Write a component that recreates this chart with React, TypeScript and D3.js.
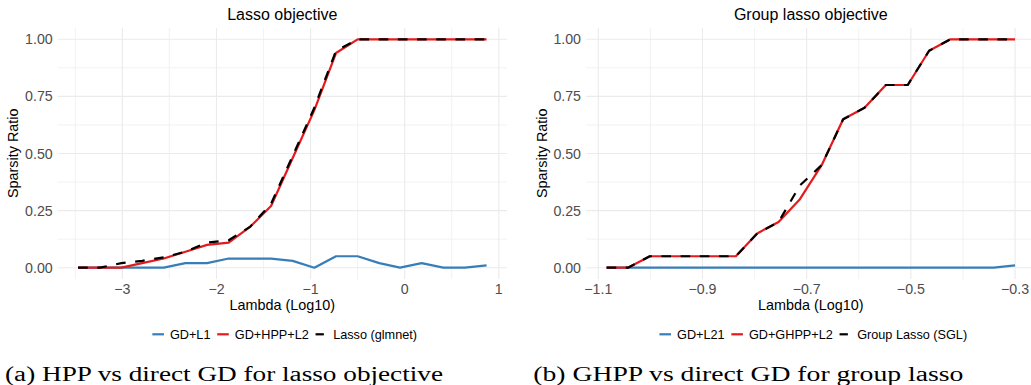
import { useEffect, useRef } from "react";
import * as d3 from "d3";

// log10(lambda) grid and sparsity ratios
const lassoLambda = [-3.47, -3.24, -3.01, -2.79, -2.56, -2.33, -2.1, -1.87, -1.64, -1.42, -1.19, -0.96, -0.73, -0.5, -0.27, -0.05, 0.18, 0.41, 0.64, 0.87];
const lassoGD = [0, 0, 0, 0, 0, 0.02, 0.02, 0.04, 0.04, 0.04, 0.03, 0, 0.05, 0.05, 0.02, 0, 0.02, 0, 0, 0.01];
const lassoHPP = [0, 0, 0, 0.02, 0.04, 0.07, 0.1, 0.11, 0.18, 0.27, 0.48, 0.69, 0.94, 1, 1, 1, 1, 1, 1, 1];
const lassoGlmnet = [0, 0, 0.02, 0.03, 0.045, 0.07, 0.11, 0.12, 0.18, 0.28, 0.49, 0.7, 0.95, 1, 1, 1, 1, 1, 1, 1];

const groupLambda = [-1.084, -1.043, -1.001, -0.96, -0.919, -0.878, -0.836, -0.795, -0.754, -0.713, -0.671, -0.63, -0.589, -0.548, -0.506, -0.465, -0.424, -0.383, -0.341, -0.3];
const groupGD = [0, 0, 0, 0, 0, 0, 0, 0, 0, 0, 0, 0, 0, 0, 0, 0, 0, 0, 0, 0.01];
const groupGHPP = [0, 0, 0.05, 0.05, 0.05, 0.05, 0.05, 0.15, 0.2, 0.3, 0.45, 0.65, 0.7, 0.8, 0.8, 0.95, 1, 1, 1, 1];
const groupSGL = [0, 0, 0.05, 0.05, 0.05, 0.05, 0.05, 0.15, 0.2, 0.36, 0.45, 0.65, 0.7, 0.8, 0.8, 0.95, 1, 1, 1, 1];

const lassoXTicks = [-3, -2, -1, 0, 1];
const lassoXMinor = [-3.5, -2.5, -1.5, -0.5, 0.5];
const groupXTicks = [-1.1, -0.9, -0.7, -0.5, -0.3];
const groupXMinor = [-1.0, -0.8, -0.6, -0.4];
const yTicks = [0, 0.25, 0.5, 0.75, 1];
const yMinor = [0.125, 0.375, 0.625, 0.875];

const lassoLegend = ["GD+L1", "GD+HPP+L2", "Lasso (glmnet)"];
const groupLegend = ["GD+L21", "GD+GHPP+L2", "Group Lasso (SGL)"];

const colors = ["#377EB8", "#E41A1C", "#000000"];
const SANS = "'Liberation Sans', Arial, Helvetica, sans-serif";

function App() {
  const svgRef = useRef<SVGSVGElement | null>(null);

  useEffect(() => {
    const svg = d3.select(svgRef.current);
    svg.selectAll("*").remove();

    const panels = [
      {
        title: "Lasso objective",
        x: lassoLambda,
        series: [lassoGD, lassoHPP, lassoGlmnet],
        legend: lassoLegend,
        ticks: lassoXTicks,
        minor: lassoXMinor,
        fmt: d3.format("d"),
        range: [57.7, 507],
        yLabelRight: 52.7,
        yTitleX: 18,
        legendCenter: 284.7,
      },
      {
        title: "Group lasso objective",
        x: groupLambda,
        series: [groupGD, groupGHPP, groupSGL],
        legend: groupLegend,
        ticks: groupXTicks,
        minor: groupXMinor,
        fmt: d3.format(".1f"),
        range: [586.2, 1035.5],
        yLabelRight: 581,
        yTitleX: 547,
        legendCenter: 813.3,
      },
    ];

    panels.forEach(p => {
      const [lo, hi] = d3.extent(p.x) as [number, number];
      const pad = (hi - lo) * 0.05;
      const x = d3.scaleLinear().domain([lo - pad, hi + pad]).range(p.range);
      const y = d3.scaleLinear().domain([-0.05, 1.05]).range([279.1, 27.9]);
      const [x0, x1] = p.range;
      const [y0, y1] = y.range();

      const g = svg.append("g");

      // grid
      g.selectAll(".vminor").data(p.minor).join("line")
        .attr("x1", d => x(d)).attr("x2", d => x(d))
        .attr("y1", y0).attr("y2", y1)
        .attr("stroke", "#efefef").attr("stroke-width", 0.8);
      g.selectAll(".hminor").data(yMinor).join("line")
        .attr("y1", d => y(d)).attr("y2", d => y(d))
        .attr("x1", x0).attr("x2", x1)
        .attr("stroke", "#efefef").attr("stroke-width", 0.8);
      g.append("g").selectAll("line").data(p.ticks).join("line")
        .attr("x1", d => x(d)).attr("x2", d => x(d))
        .attr("y1", y0).attr("y2", y1)
        .attr("stroke", "#ebebeb").attr("stroke-width", 1.1);
      g.append("g").selectAll("line").data(yTicks).join("line")
        .attr("y1", d => y(d)).attr("y2", d => y(d))
        .attr("x1", x0).attr("x2", x1)
        .attr("stroke", "#ebebeb").attr("stroke-width", 1.1);

      // tick labels
      g.append("g").selectAll("text").data(p.ticks).join("text")
        .attr("x", d => x(d)).attr("y", 294)
        .attr("text-anchor", "middle")
        .attr("font-family", SANS).attr("font-size", 14.2).attr("fill", "#4d4d4d")
        .text(d => p.fmt(d));
      g.append("g").selectAll("text").data(yTicks).join("text")
        .attr("x", p.yLabelRight).attr("y", d => y(d) + 5)
        .attr("text-anchor", "end")
        .attr("font-family", SANS).attr("font-size", 14.2).attr("fill", "#4d4d4d")
        .text(d => d3.format(".2f")(d));

      // titles
      g.append("text")
        .attr("x", (x0 + x1) / 2).attr("y", 20)
        .attr("text-anchor", "middle")
        .attr("font-family", SANS).attr("font-size", 16)
        .text(p.title);
      g.append("text")
        .attr("x", (x0 + x1) / 2).attr("y", 310)
        .attr("text-anchor", "middle")
        .attr("font-family", SANS).attr("font-size", 14.4)
        .text("Lambda (Log10)");
      g.append("text")
        .attr("transform", `translate(${p.yTitleX},153.3) rotate(-90)`)
        .attr("text-anchor", "middle")
        .attr("font-family", SANS).attr("font-size", 14.4)
        .text("Sparsity Ratio");

      // lines
      p.series.forEach((s, i) => {
        const line = d3.line<number>().x((_, j) => x(p.x[j])).y(d => y(d));
        g.append("path")
          .datum(s)
          .attr("fill", "none")
          .attr("stroke", colors[i])
          .attr("stroke-width", 2.2)
          .attr("stroke-linejoin", "round")
          .attr("stroke-dasharray", i === 2 ? "9.6 9.6" : null)
          .attr("d", line);
      });

      // legend
      const lg = g.append("g");
      let cx = 0;
      p.legend.forEach((label, i) => {
        lg.append("line")
          .attr("x1", cx).attr("x2", cx + 11.6)
          .attr("y1", 334.3).attr("y2", 334.3)
          .attr("stroke", colors[i]).attr("stroke-width", 2.2)
          .attr("stroke-dasharray", i === 2 ? "8.3 9.6" : null);
        const t = lg.append("text")
          .attr("x", cx + 17.6).attr("y", 339.3)
          .attr("font-family", SANS).attr("font-size", 12.7)
          .text(label);
        const w = (t.node() as SVGTextElement).getComputedTextLength();
        cx += 17.6 + w + 6.7;
      });
      const total = cx - 6.7;
      lg.attr("transform", `translate(${p.legendCenter - total / 2},0)`);
    });

    // sub-figure captions
    const SERIF = "'Liberation Serif', 'Times New Roman', serif";
    svg.append("text")
      .attr("x", 5).attr("y", 380.5)
      .attr("font-family", SERIF).attr("font-size", 20.5)
      .attr("textLength", 438).attr("lengthAdjust", "spacingAndGlyphs")
      .text("(a) HPP vs direct GD for lasso objective");
    svg.append("text")
      .attr("x", 533.3).attr("y", 380.5)
      .attr("font-family", SERIF).attr("font-size", 20.5)
      .attr("textLength", 430).attr("lengthAdjust", "spacingAndGlyphs")
      .text("(b) GHPP vs direct GD for group lasso");
  }, []);

  return (
    <svg
      ref={svgRef}
      width={1031}
      height={385}
      style={{ position: "absolute", left: 0, top: 0, background: "#fff" }}
    />
  );
}

export default App;
